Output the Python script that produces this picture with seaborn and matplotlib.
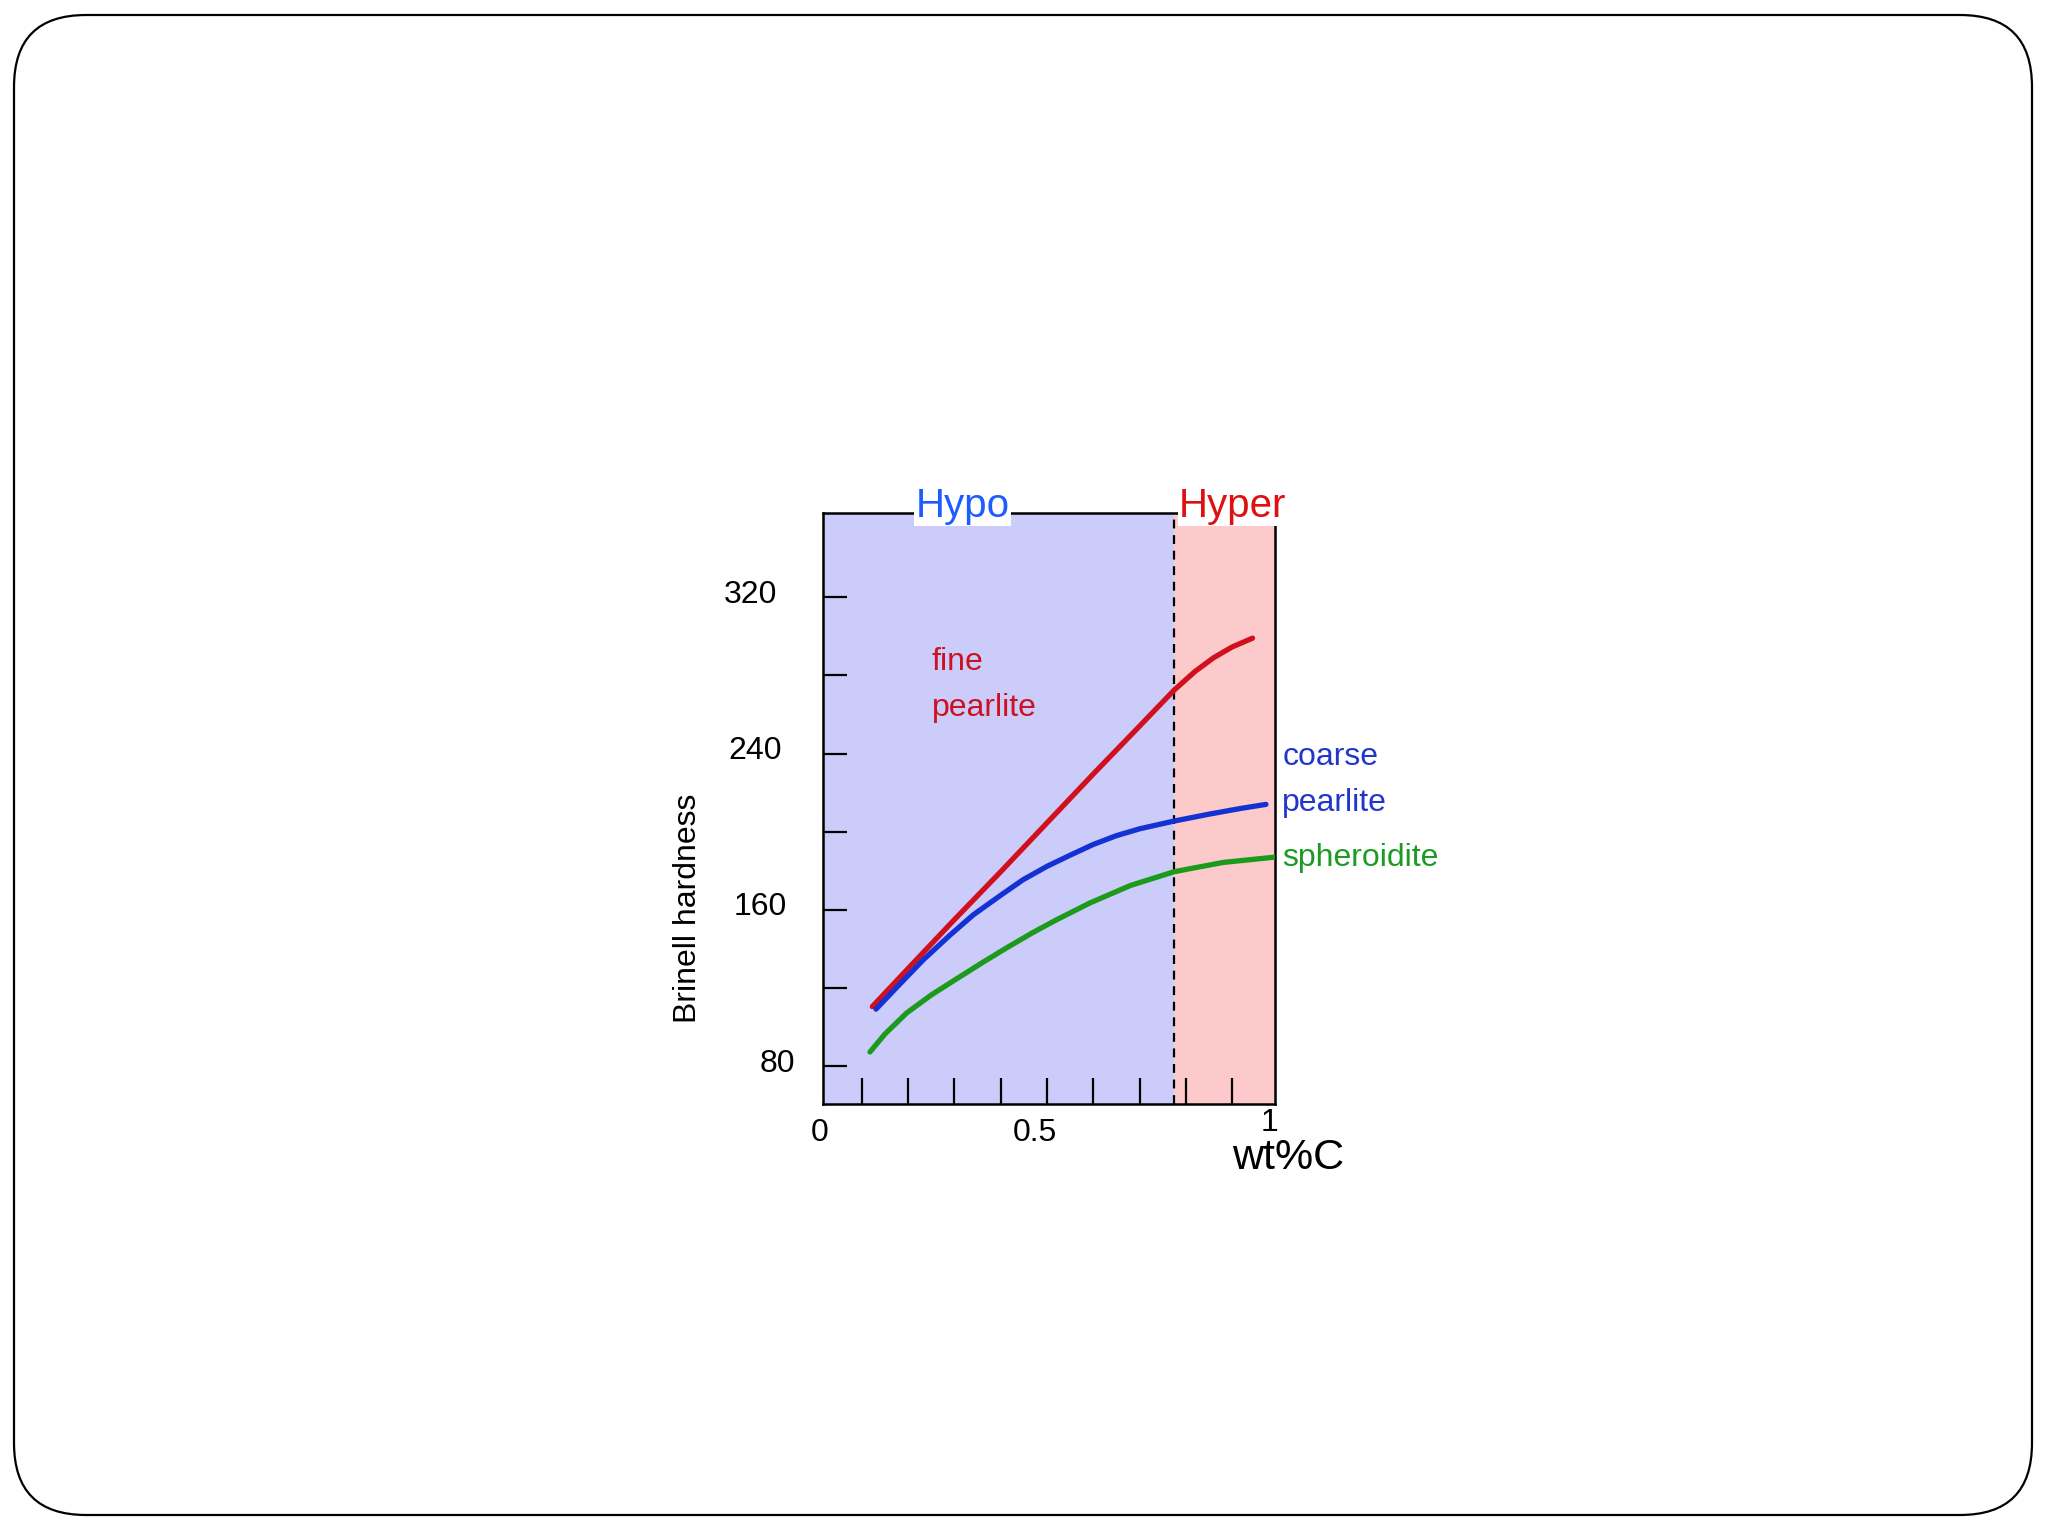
import numpy as np
import pandas as pd
import matplotlib
matplotlib.use('Agg')
import matplotlib.pyplot as plt
import seaborn as sns
from matplotlib.patches import FancyBboxPatch
from matplotlib.transforms import ScaledTranslation

# curves (wt%C, Brinell hardness)
fine_x = [0.123, 0.20, 0.30, 0.40, 0.50, 0.60, 0.70, 0.775, 0.82, 0.86, 0.90, 0.944]
fine_y = [110.6, 130.0, 155.0, 179.5, 204.5, 229.5, 254.0, 272.5, 282.0, 289.0, 294.5, 299.0]

coarse_x = [0.131, 0.18, 0.233, 0.29, 0.341, 0.40, 0.448, 0.50, 0.55, 0.60, 0.65, 0.70,
            0.775, 0.85, 0.92, 0.973]
coarse_y = [109.3, 121.5, 134.5, 147.0, 157.5, 167.5, 175.4, 182.3, 188.0, 193.5, 198.0, 201.5,
            205.5, 209.0, 212.0, 214.0]

sphero_x = [0.118, 0.15, 0.197, 0.25, 0.305, 0.36, 0.412, 0.47, 0.52, 0.592, 0.68, 0.775,
            0.88, 0.991]
sphero_y = [87.4, 96.5, 107.3, 116.5, 124.8, 133.0, 140.5, 148.5, 154.9, 163.5, 172.5, 179.6,
            184.3, 187.0]

eutectoid = 0.775
x_lo, x_hi = 0.0166, 0.9925
y_lo, y_hi = 60.8, 363.0

y_major = [80, 160, 240, 320]
y_minor = [120, 200, 280]
x_minor = [0.1, 0.2, 0.3, 0.4, 0.5, 0.6, 0.7, 0.8, 0.9]
x_labels = ['0', '0.5', '1']
x_label_pos = [0.010, 0.475, 0.980]

sns.set_style('white')
plt.rcParams['font.family'] = ['Liberation Sans', 'DejaVu Sans']
plt.rcParams['text.color'] = 'black'
plt.rcParams['axes.labelcolor'] = 'black'
plt.rcParams['xtick.color'] = 'black'
plt.rcParams['ytick.color'] = 'black'

fig = plt.figure(figsize=(20.48, 15.36), dpi=100)
ax = fig.add_axes([823 / 2048, 1 - 1104 / 1536, 452 / 2048, 591 / 1536])

# hypo / hyper regions
ax.axvspan(x_lo, eutectoid, color='#ccccfa', lw=0, zorder=0)
ax.axvspan(eutectoid, x_hi, color='#fccaca', lw=0, zorder=0)
ax.axvline(eutectoid, color='black', lw=1.6, ls=(0, (4, 3)), zorder=1)

df = pd.concat([
    pd.DataFrame({'wt': fine_x, 'hb': fine_y, 'phase': 'fine'}),
    pd.DataFrame({'wt': coarse_x, 'hb': coarse_y, 'phase': 'coarse'}),
    pd.DataFrame({'wt': sphero_x, 'hb': sphero_y, 'phase': 'sphero'}),
])
palette = {'fine': '#d0101c', 'coarse': '#1432d4', 'sphero': '#1c9a1c'}
sns.lineplot(data=df, x='wt', y='hb', hue='phase', palette=palette, lw=3.8,
             estimator=None, legend=False, ax=ax, zorder=3)

ax.set_xlim(x_lo, x_hi)
ax.set_ylim(y_lo, y_hi)
ax.set_xlabel('')
ax.set_ylabel('')

ax.set_yticks(y_major)
ax.set_yticks(y_minor, minor=True)
ax.set_xticks([])
ax.set_xticks(x_minor, minor=True)
ax.tick_params(axis='y', which='both', direction='in', length=17, width=1.6,
               labelsize=23, pad=26, left=True, colors='black')
ax.tick_params(axis='x', which='minor', direction='in', length=19, width=1.6,
               bottom=True, labelbottom=False, colors='black')
for s in ax.spines.values():
    s.set_visible(True)
    s.set_color('black')
    s.set_linewidth(1.8)

# the y labels in the picture sit a bit above their ticks and are not aligned
fig.canvas.draw()
shifts = {'320': -10, '240': -5, '160': 0, '80': 8}
for lab in ax.get_yticklabels():
    dx = shifts.get(lab.get_text(), 0)
    lab.set_transform(lab.get_transform() + ScaledTranslation(dx / 100, 6 / 100, fig.dpi_scale_trans))

# x tick labels (placed as in the picture)
tr = ax.get_xaxis_transform()
for pos, lab in zip(x_label_pos, x_labels):
    yy = -0.032 if lab == '1' else -0.049
    ax.text(pos, yy, lab, transform=tr, ha='center', va='center', fontsize=23)

# region titles
ax.text(0.318, 0.993, 'Hypo', transform=tr, ha='center', va='baseline', fontsize=29,
        color='#1f5cff', bbox=dict(facecolor='white', edgecolor='none', pad=1), zorder=5)
ax.text(0.901, 0.993, 'Hyper', transform=tr, ha='center', va='baseline', fontsize=29,
        color='#dd1111', bbox=dict(facecolor='white', edgecolor='none', pad=1), zorder=5)

# curve labels
ax.text(0.251, 286.8, 'fine', color='#cc1122', fontsize=23, va='center')
ax.text(0.251, 263.3, 'pearlite', color='#cc1122', fontsize=23, va='center')
ax.text(1.008, 238.2, 'coarse', color='#2236cc', fontsize=23, va='center')
ax.text(1.008, 214.7, 'pearlite', color='#2236cc', fontsize=23, va='center')
ax.text(1.008, 186.6, 'spheroidite', color='#1c9a24', fontsize=23, va='center')

fig.text(688 / 2048, 1 - 908 / 1536, 'Brinell hardness', rotation=90,
         ha='center', va='center', fontsize=23)
fig.text(1288 / 2048, 1 - 1158 / 1536, 'wt%C', ha='center', va='center', fontsize=31)

# rounded slide border
border = FancyBboxPatch((14, 21), 2018, 1500, boxstyle='round,pad=0,rounding_size=72',
                        transform=None, fill=False, edgecolor='black', lw=1.6)
fig.add_artist(border)

fig.savefig('out.png', dpi=100, facecolor='white')
